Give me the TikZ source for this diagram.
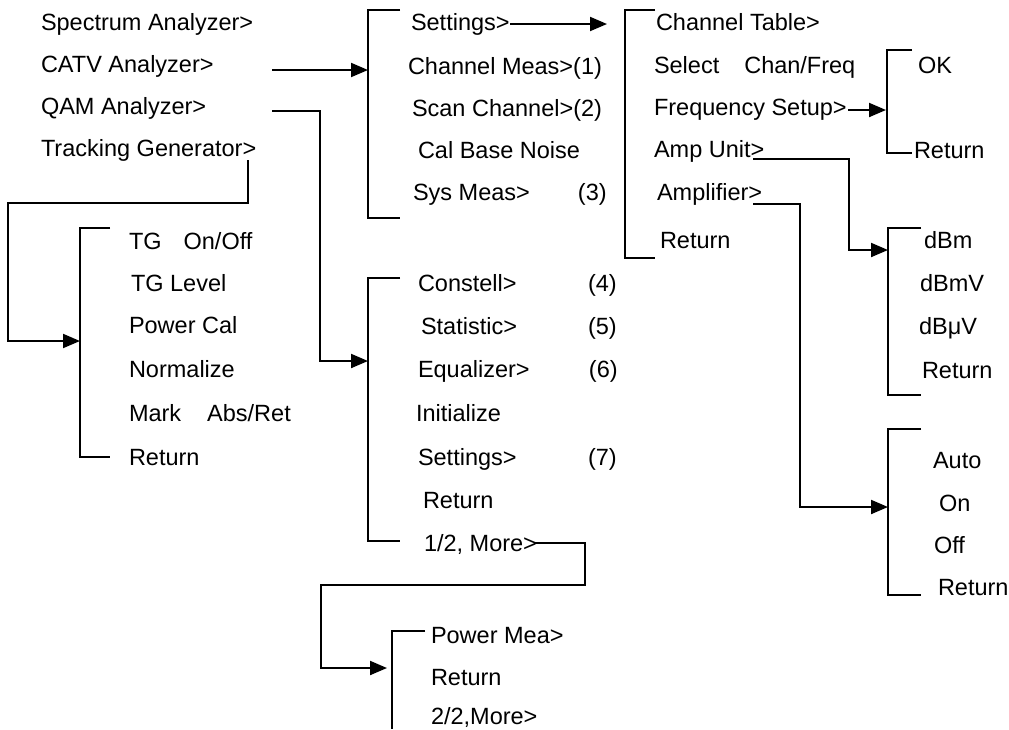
\documentclass[tikz,border=0pt]{standalone}
\usepackage{fontspec}
\setmainfont{Liberation Sans}
\usepackage{tikz}
\usetikzlibrary{arrows.meta}

\begin{document}
\begin{tikzpicture}[x=1pt,y=-1pt,line width=2pt,
  item/.style={anchor=west,inner sep=0pt,text height=16.8pt,text depth=0pt,font=\fontsize{23.5}{28}\selectfont},
  arr/.style={-{Triangle[length=17pt,width=14pt]}}]
\useasboundingbox (0,0) rectangle (1009,729);
% ana menu
\foreach \n/\x/\y/\t in {spec/40/22/{Spectrum Analyzer>},catv/40/64/{CATV Analyzer>},
  qam/40/106/{QAM Analyzer>},trk/40/148/{Tracking Generator>}}
  \node[item] (\n) at (\x,\y) {\t};
% CATV alt menu
\foreach \n/\x/\y/\t in {cSet/410/22/{Settings>},cMeas/407/66/{Channel Meas>(1)},
  cScan/411/108/{Scan Channel>(2)},cCal/417/150/{Cal Base Noise},
  cSys/412/192/{\makebox[165pt][l]{Sys Meas>}(3)}}
  \node[item] (\n) at (\x,\y) {\t};
% settings alt menu
\foreach \n/\x/\y/\t in {sTab/655/22/{Channel Table>},sSel/653/65/{Select\hspace{25pt}Chan/Freq},
  sFrq/653/107/{Frequency Setup>},sAmp/653/149/{Amp Unit>},sAmpl/656/192/{Amplifier>},
  sRet/659/240/{Return}}
  \node[item] (\n) at (\x,\y) {\t};
\node[item] (fOk) at (917,65) {OK};
\node[item] (fRet) at (913,150) {Return};
% tracking generator
\foreach \n/\x/\y/\t in {tOn/128/241/{TG\hspace{22pt}On/Off},tLev/130/283/{TG Level},
  tCal/128/325/{Power Cal},tNorm/128/369/{Normalize},tMark/128/413/{Mark\hspace{26pt}Abs/Ret},
  tRet/128/457/{Return}}
  \node[item] (\n) at (\x,\y) {\t};
% QAM alt menu
\foreach \n/\x/\y/\t in {qCon/417/283/{\makebox[170pt][l]{Constell>}(4)},
  qStat/420/326/{\makebox[167pt][l]{Statistic>}(5)},qEq/417/369/{\makebox[171pt][l]{Equalizer>}(6)},
  qIni/415/413/{Initialize},qSet/417/457/{\makebox[170pt][l]{Settings>}(7)},
  qRet/422/500/{Return},qMore/423/543/{1/2, More>}}
  \node[item] (\n) at (\x,\y) {\t};
\foreach \n/\y/\t in {pMea/635/{Power Mea>},pRet/677/{Return},pMore/716/{2/2,More>}}
  \node[item] (\n) at (430,\y) {\t};
% birimler ve amplifier
\foreach \n/\x/\y/\t in {uM/923/240/dBm,uMV/919/283/dBmV,uUV/918/326/dBμV,uRet/921/370/Return,
  aAuto/932/460/Auto,aOn/938/503/On,aOff/933/545/Off,aRet/937/587/Return}
  \node[item] (\n) at (\x,\y) {\t};
% koseli cizgiler
\foreach \x/\t/\b/\w in {80/228/457/30,368/10/218/32,368/278/541/32,625/10/258/30,
  887/50/153/25,888/228/395/33,888/429/595/33}
  \draw (\x+\w,\t) -| (\x,\b) -- (\x+\w,\b);
\draw (425,631) -| (392,729);
% giris ve cikis noktalari
\coordinate (catvOut) at (272,70);   \coordinate (catvIn) at (368,70);
\coordinate (qamOut) at (272,111);   \coordinate (qamIn) at (368,361);
\coordinate (trkOut) at (248,160);   \coordinate (trkIn) at (80,341);
\coordinate (setOut) at (510,24);    \coordinate (setIn) at (607,24);
\coordinate (frqOut) at (848,110);   \coordinate (frqIn) at (886,110);
\coordinate (ampOut) at (753,159);   \coordinate (ampIn) at (888,250);
\coordinate (amplOut) at (753,204);  \coordinate (amplIn) at (888,507);
\coordinate (moreOut) at (535,543);  \coordinate (moreIn) at (387,668);
% oklar
\draw[arr] (catvOut) -- (catvIn);
\draw[arr] (qamOut) -- ++(48,0) |- (qamIn);
\draw[arr] (trkOut) -- ++(0,43) -- ++(-240,0) |- (trkIn);
\draw[arr] (setOut) -- (setIn);
\draw[arr] (frqOut) -- (frqIn);
\draw[arr] (ampOut) -- ++(96,0) |- (ampIn);
\draw[arr] (amplOut) -- ++(47,0) |- (amplIn);
\draw[arr] (moreOut) -- ++(50,0) -- ++(0,42) -- ++(-264,0) |- (moreIn);
\end{tikzpicture}
\end{document}
